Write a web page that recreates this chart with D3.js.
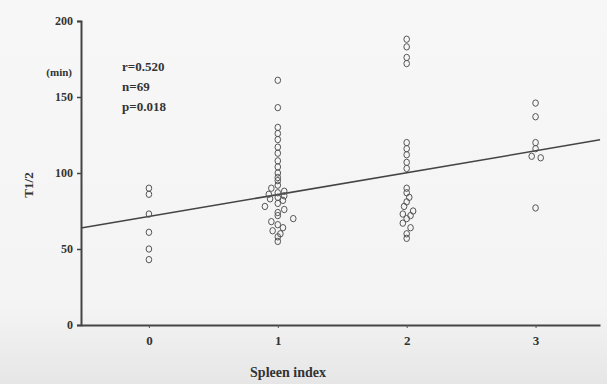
<!DOCTYPE html>
<html>
<head>
<meta charset="utf-8">
<script src="https://cdn.jsdelivr.net/npm/d3@7"></script>
<style>
  body { margin: 0; background: #f6f6f6; }
  svg { display: block; }
  text { font-family: "Liberation Serif", "DejaVu Serif", serif; font-weight: bold; fill: #333; }
</style>
</head>
<body>
<div id="chart"></div>
<script>
// T1/2 (min) values, grouped by spleen index.
// x carries a small offset where two circles sit side by side.
let group0 = [[0, 43], [0, 50], [0, 61], [0, 73], [0, 86], [0, 90]];
let group1 = [
  [1, 161], [1, 143], [1, 130], [1, 126], [1, 122], [1, 117], [1, 113], [1, 108],
  [1, 104], [1, 100], [1, 97], [1, 95], [1, 92], [0.95, 90], [1.05, 88], [1, 87],
  [0.93, 86], [1.05, 85], [1, 84], [0.94, 83], [1.04, 82], [1, 80], [0.9, 78],
  [1.05, 76], [1, 74], [1, 72], [1.12, 70], [0.95, 68], [1, 66], [1.04, 64],
  [0.96, 62], [1.02, 60], [1, 58], [1, 55]
];
let group2 = [
  [2, 188], [2, 183], [2, 176], [2, 172], [2, 120], [2, 116], [2, 112], [2, 107],
  [2, 103], [2, 90], [2, 87], [2.02, 84], [2, 81], [1.98, 78], [2.05, 75], [1.97, 73],
  [2.03, 72], [2, 70], [1.97, 67], [2.03, 64], [2, 60], [2, 57]
];
let group3 = [[3, 146], [3, 137], [3, 120], [3, 116], [2.97, 111], [3.04, 110], [3, 77]];

let xTicks = [0, 1, 2, 3];
let yTicks = [0, 50, 100, 150, 200];
let stats = ["r=0.520", "n=69", "p=0.018"];
// regression line: T1/2 = a + b * index
let fitA = 71.4;
let fitB = 14.4;

let width = 607;
let height = 384;

let x = d3.scaleLinear().domain([-0.527, 3.5]).range([81, 600]);
let y = d3.scaleLinear().domain([0, 200]).range([325, 21]);

let svg = d3
  .select("#chart")
  .append("svg")
  .attr("width", width)
  .attr("height", height);

// scanned-page shading toward the bottom
let grad = svg
  .append("defs")
  .append("linearGradient")
  .attr("id", "bg")
  .attr("x1", 0)
  .attr("y1", 0)
  .attr("x2", 0)
  .attr("y2", 1);
grad.append("stop").attr("offset", "0%").attr("stop-color", "#f7f7f7");
grad.append("stop").attr("offset", "80%").attr("stop-color", "#f4f4f4");
grad.append("stop").attr("offset", "100%").attr("stop-color", "#e6e6e6");
svg
  .append("rect")
  .attr("width", width)
  .attr("height", height)
  .attr("fill", "url(#bg)");

// axes
let yAxis = svg
  .append("g")
  .attr("transform", "translate(81,0)")
  .call(d3.axisLeft(y).tickValues(yTicks).tickSize(4).tickPadding(4));
yAxis.select(".domain").attr("stroke", "#444").attr("stroke-width", 2);
yAxis.selectAll(".tick line").attr("stroke", "#444").attr("stroke-width", 1.5);
yAxis
  .selectAll(".tick text")
  .attr("font-size", 12)
  .attr("font-family", "Liberation Serif")
  .attr("font-weight", "bold")
  .attr("fill", "#333");

let xAxis = svg
  .append("g")
  .attr("transform", "translate(0,325)")
  .call(
    d3
      .axisBottom(x)
      .tickValues(xTicks)
      .tickFormat(d3.format("d"))
      .tickSize(3)
      .tickPadding(8)
      .tickSizeOuter(0)
  );
xAxis.select(".domain").attr("stroke", "#444").attr("stroke-width", 2);
xAxis.selectAll(".tick line").attr("stroke", "#555");
xAxis
  .selectAll(".tick text")
  .attr("font-size", 13)
  .attr("font-family", "Liberation Serif")
  .attr("font-weight", "bold")
  .attr("fill", "#333");

// regression line
let xs = x.domain();
svg
  .append("line")
  .attr("x1", x(xs[0]))
  .attr("y1", y(fitA + fitB * xs[0]))
  .attr("x2", x(xs[1]))
  .attr("y2", y(fitA + fitB * xs[1]))
  .attr("stroke", "#444")
  .attr("stroke-width", 1.5);

// points
let points = group0.concat(group1, group2, group3);
svg
  .selectAll(".pt")
  .data(points)
  .enter()
  .append("ellipse")
  .attr("class", "pt")
  .attr("cx", d => x(d[0]))
  .attr("cy", d => y(d[1]))
  .attr("rx", 2.8)
  .attr("ry", 3.2)
  .attr("fill", "none")
  .attr("stroke", "#555")
  .attr("stroke-width", 1);

// labels
svg
  .append("text")
  .attr("x", 72)
  .attr("y", 76)
  .attr("text-anchor", "end")
  .attr("font-size", 11)
  .text("(min)");

svg
  .append("text")
  .attr("transform", "translate(33,185) rotate(-90)")
  .attr("text-anchor", "middle")
  .attr("font-size", 13)
  .text("T1/2");

svg
  .selectAll(".stat")
  .data(stats)
  .enter()
  .append("text")
  .attr("class", "stat")
  .attr("x", 122)
  .attr("y", (d, i) => 71 + i * 20)
  .attr("font-size", 13)
  .text(d => d);

svg
  .append("text")
  .attr("x", 288)
  .attr("y", 377)
  .attr("text-anchor", "middle")
  .attr("font-size", 14)
  .text("Spleen index");
</script>
</body>
</html>
